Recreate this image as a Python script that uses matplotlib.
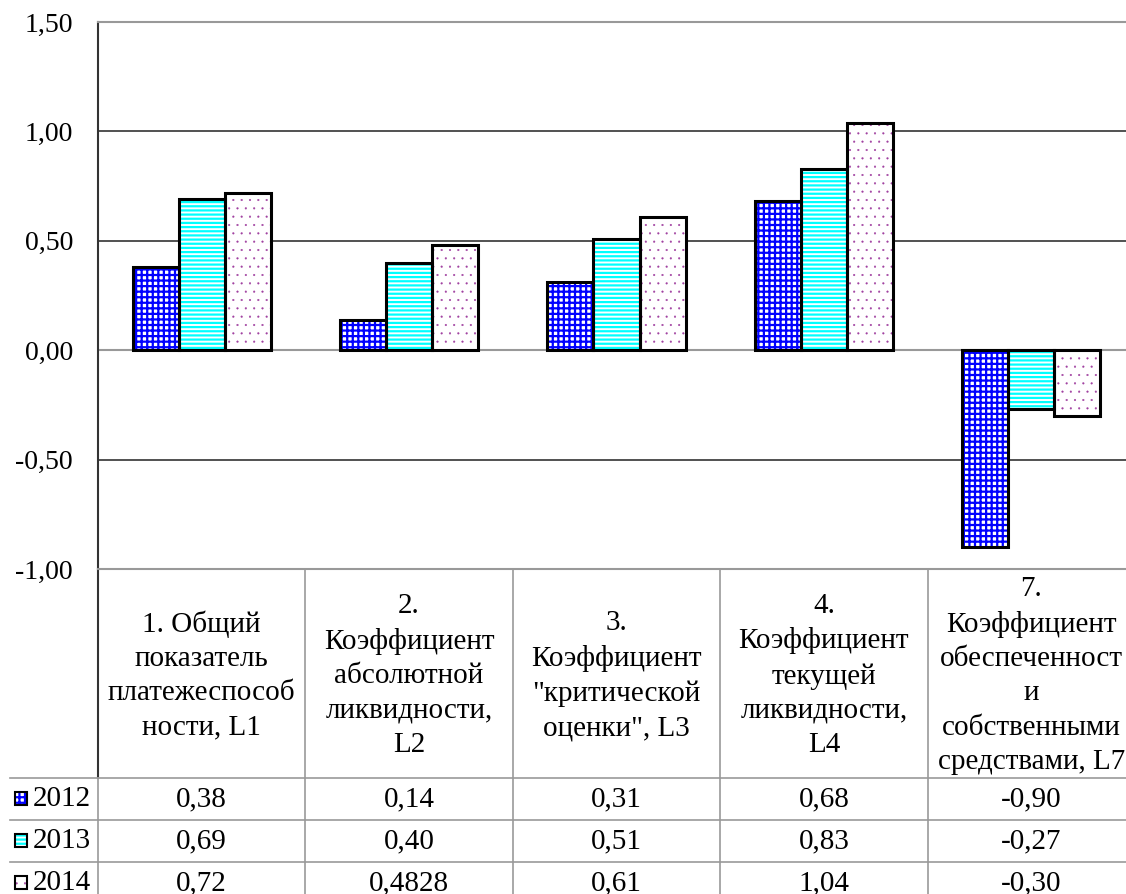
import matplotlib
matplotlib.use("Agg")
import matplotlib.pyplot as plt
from matplotlib.patches import Rectangle
from matplotlib.ticker import FuncFormatter

plt.rcParams['font.family'] = ['Liberation Serif', 'DejaVu Serif']

# Коэффициенты платежеспособности по годам
categories = [
    "1. Общий\nпоказатель\nплатежеспособ\nности, L1",
    "2.\nКоэффициент\nабсолютной\nликвидности,\nL2",
    "3.\nКоэффициент\n\"критической\nоценки\", L3",
    "4.\nКоэффициент\nтекущей\nликвидности,\nL4",
    "7.\nКоэффициент\nобеспеченност\nи\nсобственными\nсредствами, L7",
]
years = ["2012", "2013", "2014"]
v2012 = [0.38, 0.14, 0.31, 0.68, -0.90]
v2013 = [0.69, 0.40, 0.51, 0.83, -0.27]
v2014 = [0.72, 0.4828, 0.61, 1.04, -0.30]
labels2012 = ["0,38", "0,14", "0,31", "0,68", "-0,90"]
labels2013 = ["0,69", "0,40", "0,51", "0,83", "-0,27"]
labels2014 = ["0,72", "0,4828", "0,61", "1,04", "-0,30"]

series = [v2012, v2013, v2014]
series_labels = [labels2012, labels2013, labels2014]
hatches = ["+++", "----", ".."]
hatch_colors = ["#0000ff", "#00ffff", "#a040a0"]
hatch_widths = [1.6, 1.6, 0.3]

FS = 21

W, H = 1126, 894
fig = plt.figure(figsize=(W / 100, H / 100), dpi=100)

# plot area in pixels
left, right, top, bottom = 98, 1135, 22, 569
ax = fig.add_axes([left / W, 1 - bottom / H, (right - left) / W, (bottom - top) / H])
ax.set_xlim(-0.5, len(categories) - 0.5)
ax.set_ylim(-1.0, 1.5)
ax.set_yticks([-1.0, -0.5, 0.0, 0.5, 1.0, 1.5])
ax.yaxis.set_major_formatter(FuncFormatter(lambda v, p: f"{v:.2f}".replace(".", ",")))
ax.tick_params(axis='y', length=0, pad=18, labelsize=FS - 1)
ax.set_xticks([])
for y in [0.5, 1.0, -0.5]:
    ax.axhline(y, color="#333333", lw=1.2, zorder=1)
ax.axhline(0, color="#999999", lw=1.5, zorder=1)
ax.spines['left'].set_color("#333333")
ax.spines['left'].set_linewidth(1.5)
ax.spines['top'].set_color("#999999")
ax.spines['top'].set_linewidth(1.5)
ax.spines['bottom'].set_color("#999999")
ax.spines['bottom'].set_linewidth(1.5)
ax.spines['right'].set_visible(False)

bw = 0.222
x = range(len(categories))
for i, vals in enumerate(series):
    pos = [k + (i - 1) * bw for k in x]
    plt.rcParams['hatch.linewidth'] = hatch_widths[i]
    ax.bar(pos, vals, width=bw, color="white", edgecolor=hatch_colors[i],
           hatch=hatches[i], linewidth=0, zorder=2)
    ax.bar(pos, vals, width=bw, fill=False, edgecolor="black", linewidth=2.2, zorder=3)

# data table under the chart, drawn in pixel coordinates
tab = fig.add_axes([0, 0, 1, 1], zorder=-1)
tab.set_xlim(0, W)
tab.set_ylim(H, 0)
tab.axis("off")
colw = (right - left) / len(categories)
header_bottom = 778
rowh = 42
grid = "#999999"
tab.plot([left, left], [bottom, header_bottom], color="#333333", lw=1.5)
for j in range(1, len(categories) + 1):
    xe = left + j * colw
    tab.plot([xe, xe], [bottom, H + 5], color=grid, lw=1.2)
tab.plot([left, left], [header_bottom, H + 5], color=grid, lw=1.2)
for r in range(3):
    yl = header_bottom + r * rowh
    tab.plot([10, W + 20], [yl, yl], color=grid, lw=1.2)

for j, name in enumerate(categories):
    cx = left + (j + 0.5) * colw
    tab.text(cx, (bottom + header_bottom) / 2 + 2, name, ha="center", va="center",
             fontsize=FS, linespacing=1.42)

for r, (yr, labs) in enumerate(zip(years, series_labels)):
    yc = header_bottom + (r + 0.5) * rowh
    plt.rcParams['hatch.linewidth'] = hatch_widths[r]
    tab.add_patch(Rectangle((15, yc - 7), 12, 13, facecolor="white",
                            edgecolor=hatch_colors[r], hatch=hatches[r], lw=0))
    tab.add_patch(Rectangle((15, yc - 7), 12, 13, fill=False, edgecolor="black", lw=1.5))
    tab.text(33, yc, yr, ha="left", va="center", fontsize=FS)
    for j, lab in enumerate(labs):
        cx = left + (j + 0.5) * colw
        tab.text(cx, yc, lab, ha="center", va="center", fontsize=FS)

fig.savefig("out.png", dpi=100)
